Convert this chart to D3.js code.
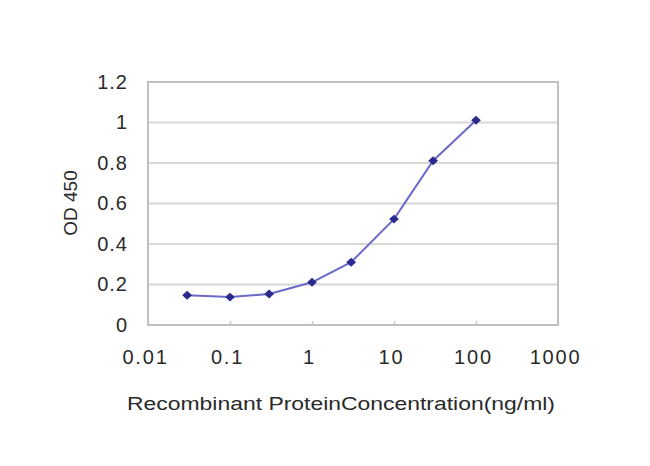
<!DOCTYPE html>
<html>
<head>
<meta charset="utf-8">
<script src="https://cdn.jsdelivr.net/npm/d3@7"></script>
<style>
  html, body { margin: 0; padding: 0; background: #fff; }
  svg { display: block; }
  text { font-family: "Liberation Sans", Arial, sans-serif; fill: #2a2a2a; }
</style>
</head>
<body>
<svg id="chart" width="650" height="466"></svg>
<script>
const concentrations = [0.03, 0.1, 0.3, 1, 3, 10, 30, 100];
const odValues = [0.147, 0.138, 0.153, 0.211, 0.31, 0.523, 0.811, 1.011];
const xTickValues = [0.01, 0.1, 1, 10, 100, 1000];
const xTickLabels = ["0.01", "0.1", "1", "10", "100", "1000"];
const yTickValues = [0, 0.2, 0.4, 0.6, 0.8, 1, 1.2];
const yTickLabels = ["0", "0.2", "0.4", "0.6", "0.8", "1", "1.2"];
const xTitle = "Recombinant ProteinConcentration(ng/ml)";
const yTitle = "OD 450";

const svg = d3.select("#chart");
const plotLeft = 148, plotRight = 558, plotTop = 82, plotBottom = 325;

const x = d3.scaleLog().domain([0.01, 1000]).range([plotLeft, plotRight]);
const y = d3.scaleLinear().domain([0, 1.2]).range([plotBottom, plotTop]);

// gridlines
svg.append("g").selectAll("line").data(yTickValues.filter(v => v > 0)).join("line")
  .attr("x1", plotLeft).attr("x2", plotRight)
  .attr("y1", d => y(d)).attr("y2", d => y(d))
  .attr("stroke", "#d8d8d8").attr("stroke-width", 2);

// plot border
svg.append("rect").attr("x", plotLeft).attr("y", plotTop)
  .attr("width", plotRight - plotLeft).attr("height", plotBottom - plotTop)
  .attr("fill", "none").attr("stroke", "#c0c0c0").attr("stroke-width", 2);

// x axis
const xAxis = d3.axisBottom(x).tickValues(xTickValues)
  .tickFormat((d, i) => xTickLabels[i]).tickSize(-4).tickPadding(25);
const gx = svg.append("g").attr("transform", `translate(0,${plotBottom})`).call(xAxis);
gx.select(".domain").remove();
gx.selectAll(".tick line").attr("stroke", "#c8c8c8").attr("stroke-width", 1.5);
gx.selectAll(".tick text").attr("font-size", 20).attr("letter-spacing", 1.8)
  .attr("dx", -3)
  .style("font-family", "'Liberation Sans', Arial, sans-serif").attr("fill", "#2a2a2a");

// y axis
const yAxis = d3.axisLeft(y).tickValues(yTickValues)
  .tickFormat((d, i) => yTickLabels[i]).tickSize(0).tickPadding(20);
const gy = svg.append("g").attr("transform", `translate(${plotLeft},0)`).call(yAxis);
gy.select(".domain").remove();
gy.selectAll(".tick text").attr("font-size", 20).attr("letter-spacing", 1)
  .style("font-family", "'Liberation Sans', Arial, sans-serif").attr("fill", "#2a2a2a");

// line
const line = d3.line().x((d, i) => x(concentrations[i])).y(d => y(d));
svg.append("path").datum(odValues).attr("d", line)
  .attr("fill", "none").attr("stroke", "#6a6ac6").attr("stroke-width", 2);

// markers
svg.append("g").selectAll("path").data(odValues).join("path")
  .attr("transform", (d, i) => `translate(${x(concentrations[i])},${y(d)}) scale(1,0.9) rotate(45)`)
  .attr("d", d3.symbol().type(d3.symbolSquare).size(48))
  .attr("fill", "#2b2b8e");

// titles
svg.append("text").attr("x", 127).attr("y", 410)
  .attr("font-size", 18).attr("textLength", 428).attr("lengthAdjust", "spacingAndGlyphs")
  .text(xTitle);
svg.append("text").attr("transform", "translate(77,203) rotate(-90)")
  .attr("text-anchor", "middle").attr("font-size", 19).text(yTitle);
</script>
</body>
</html>
